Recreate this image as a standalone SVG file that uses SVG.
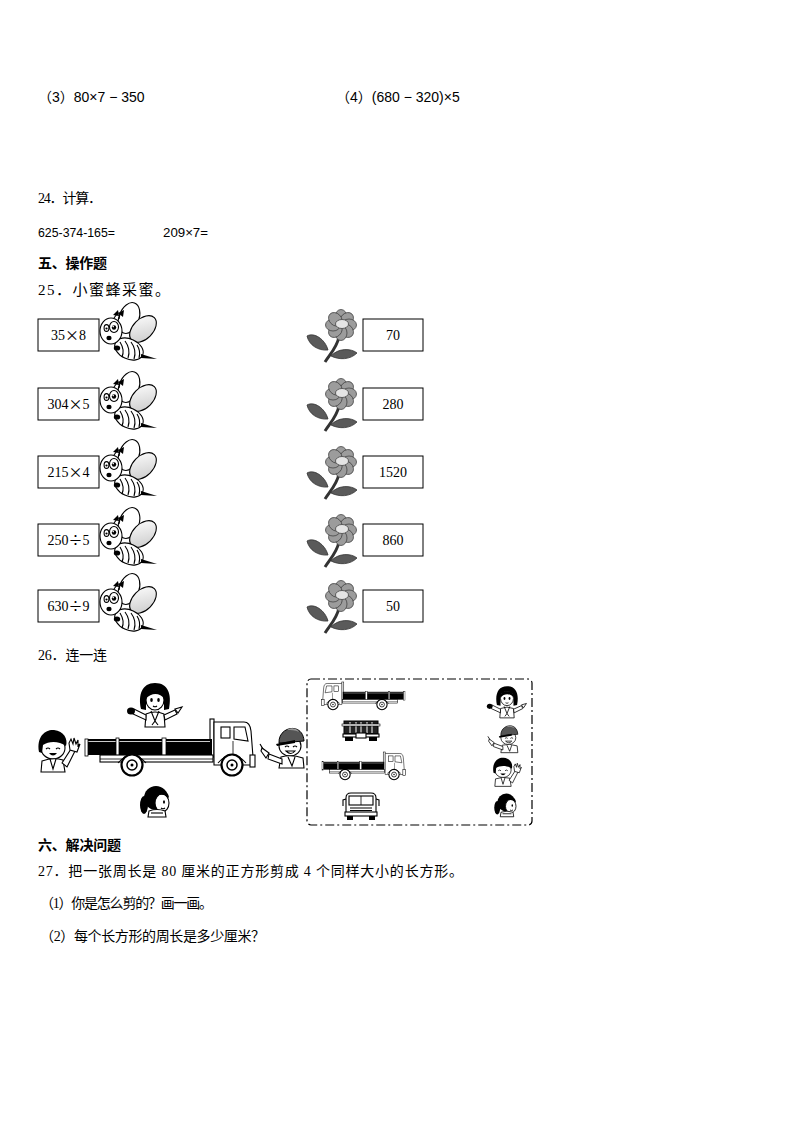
<svg xmlns="http://www.w3.org/2000/svg" xmlns:xlink="http://www.w3.org/1999/xlink" width="794" height="1123" viewBox="0 0 794 1123">
<style>
.t{font-family:"Liberation Serif","Noto Sans CJK SC",serif;font-size:14px;fill:#000}
.s{font-family:"Liberation Sans","Noto Sans CJK SC",sans-serif;font-size:14px;fill:#000}
.n{font-family:"Liberation Sans","Noto Sans CJK SC",sans-serif;font-size:13px;fill:#000}
.h{font-family:"Noto Sans CJK SC",sans-serif;font-size:14px;font-weight:bold;fill:#000}
.box{fill:#fff;stroke:#000;stroke-width:1}
.bt{font-family:"Liberation Serif","Noto Sans CJK SC",serif;font-size:14px;text-anchor:middle;fill:#000}
.op{font-family:"Noto Sans CJK SC",sans-serif;font-size:14px}
.k{stroke:#000;stroke-width:1.1;fill:#fff}
.kn{stroke:#000;stroke-width:1.1;fill:none}
.b{fill:#000}
.petal{fill:#9c9c9c;stroke:#444;stroke-width:0.8}
.leaf{fill:#5a5a5a;stroke:#333;stroke-width:0.8}
</style>
<defs>
<linearGradient id="wg" x1="0" y1="0" x2="1" y2="1"><stop offset="0" stop-color="#fff"/><stop offset="1" stop-color="#c8c8c8"/></linearGradient>
<g id="bee">
<ellipse class="k" cx="30" cy="-1" rx="10" ry="16" transform="rotate(20 30 -1)"/>
<ellipse cx="44" cy="10" rx="10" ry="16" transform="rotate(45 44 10)" fill="url(#wg)" stroke="#000" stroke-width="1.1"/>
<ellipse class="k" cx="30" cy="30" rx="15" ry="10" transform="rotate(25 30 30)"/>
<path class="kn" d="M21,23 Q26,31 23,38 M26,22 Q32,30 29,39 M32,23 Q38,31 35,40 M38,26 Q42,32 40,39"/>
<path class="b" d="M42,35 L58,40 L42,39 Z"/>
<ellipse class="k" cx="12" cy="12" rx="11" ry="13"/>
<path class="kn" d="M15,-1 L18,-5 M20,0 L21,-5"/>
<path class="b" d="M14,-4 L19,-9 L20,-3 Z M19,-6 L25,-9 L24,-2 Z"/>
<ellipse class="k" cx="15" cy="8" rx="4.5" ry="5.5"/>
<circle class="b" cx="15" cy="8.5" r="2.2"/>
<circle cx="14.2" cy="7.6" r="0.8" fill="#fff"/>
<ellipse class="k" cx="7.5" cy="9" rx="2.4" ry="3.4"/>
<circle class="b" cx="7.5" cy="9.5" r="1.1"/>
<ellipse class="b" cx="10" cy="19" rx="2.6" ry="2.2"/>
<ellipse class="b" cx="18" cy="29" rx="3.2" ry="2.6"/>
</g>
<g id="flower">
<path class="leaf" d="M307,17 C314,13 325,20 328,31 C318,32 309,26 307,17 Z"/>
<path class="leaf" d="M331,37 C338,29 351,29 357,34 C350,41 339,41 331,37 Z"/>
<path d="M339,18 C337,28 331,34 325,43" stroke="#333" stroke-width="3" fill="none"/>
<g>
<ellipse class="petal" cx="341" cy="-2" rx="6" ry="7.5"/>
<ellipse class="petal" cx="341" cy="-2" rx="6" ry="7.5" transform="rotate(45 341 6)"/>
<ellipse class="petal" cx="341" cy="-2" rx="6" ry="7.5" transform="rotate(90 341 6)"/>
<ellipse class="petal" cx="341" cy="-2" rx="6" ry="7.5" transform="rotate(135 341 6)"/>
<ellipse class="petal" cx="341" cy="-2" rx="6" ry="7.5" transform="rotate(180 341 6)"/>
<ellipse class="petal" cx="341" cy="-2" rx="6" ry="7.5" transform="rotate(225 341 6)"/>
<ellipse class="petal" cx="341" cy="-2" rx="6" ry="7.5" transform="rotate(270 341 6)"/>
<ellipse class="petal" cx="341" cy="-2" rx="6" ry="7.5" transform="rotate(315 341 6)"/>
</g>
<ellipse cx="342" cy="5" rx="6.5" ry="4.5" fill="#e4e4e4" stroke="#444" stroke-width="0.8"/>
</g>
<g id="truck">
<rect class="k" x="125" y="0" width="4" height="38"/>
<rect x="0" y="20" width="127" height="16" fill="#000"/>
<line x1="2" y1="22.5" x2="125" y2="22.5" stroke="#fff" stroke-width="0.8"/>
<rect x="0" y="20" width="3" height="17" fill="#fff" stroke="#000" stroke-width="0.8"/>
<rect x="31" y="19" width="3" height="18" fill="#fff" stroke="#000" stroke-width="0.8"/>
<rect x="77" y="19" width="4" height="18" fill="#fff" stroke="#000" stroke-width="0.8"/>
<rect class="k" x="15" y="36" width="113" height="7"/>
<line x1="15" y1="40" x2="128" y2="40" stroke="#000" stroke-width="0.8"/>
<path class="k" stroke-width="1.5" d="M129,44 L129,3 L159,3 Q165,3 166,12 L168,38 L168,46 L129,46 Z"/>
<rect class="k" x="136" y="8" width="9" height="11"/>
<path class="k" d="M149,8 L160,8 L163,22 L149,20 Z"/>
<line x1="148" y1="22" x2="148" y2="42" stroke="#000" stroke-width="0.8"/>
<rect class="k" x="165" y="36" width="5" height="12"/>
<path class="kn" stroke-width="1.5" d="M33,44 Q47,28 61,44 M133,44 Q147,28 161,44"/>
<circle cx="47" cy="46" r="10.5" fill="#fff" stroke="#000" stroke-width="2.2"/>
<circle cx="47" cy="46" r="5" fill="none" stroke="#000" stroke-width="1.5"/>
<circle cx="47" cy="46" r="1.5" fill="#000"/>
<circle cx="147" cy="46" r="10.5" fill="#fff" stroke="#000" stroke-width="2.2"/>
<circle cx="147" cy="46" r="5" fill="none" stroke="#000" stroke-width="1.5"/>
<circle cx="147" cy="46" r="1.5" fill="#000"/>
</g>
<g id="girl">
<path class="b" d="M-14,11 C-17,-3 -13,-15 0,-15 C13,-15 17,-4 14,11 L9,12 L9,0 L-9,0 L-9,12 Z"/>
<ellipse class="k" cx="0" cy="2" rx="9" ry="10"/>
<path class="b" d="M-9.5,1 C-10,-11 10,-11 9.5,1 C5,-5 -3,-6 -9.5,1 Z"/>
<ellipse class="b" cx="-3.5" cy="2" rx="1.3" ry="2"/>
<ellipse class="b" cx="3.5" cy="2" rx="1.3" ry="2"/>
<path class="kn" d="M-2,8 Q0,9.5 2,8"/>
<path class="k" d="M-10,29 L-9,16 Q0,12 9,16 L10,29 Z"/>
<path class="kn" d="M-4,13 L0,23 L4,13 M0,23 L-3,27 M0,23 L3,27"/>
<path class="k" d="M-9,17 L-21,11 L-22,16 L-9,22 Z"/>
<ellipse class="b" cx="-24" cy="13" rx="4" ry="3.5"/>
<path class="k" d="M9,17 L20,12 L22,16 L10,22 Z"/>
<path class="k" d="M20,11 L27,9 L23,15 Z"/>
</g>
<g id="boy">
<ellipse class="k" cx="0" cy="3" rx="12" ry="11"/>
<path class="b" d="M-14,7 C-17,-10 -6,-16 1,-15 C11,-14 15,-6 13,1 C6,-4 -4,-4 -10,0 L-11,8 Z"/>
<path class="kn" d="M-7,4 Q-5,2 -3,4 M3,4 Q5,2 7,4"/>
<path class="b" d="M-4,8 Q0,13 4,8 Z"/>
<path class="k" d="M-12,27 L-11,16 Q0,12 10,15 L12,27 Z"/>
<path class="kn" d="M-3,14 L0,24 L3,14"/>
<path class="k" d="M9,18 L18,4 L22,6 L14,22 Z"/>
<path class="k" d="M17,5 L16,-2 L18,-6 L20,-1 L21,-7 L23,-1 L25,-5 L25,1 L27,-1 L24,7 Z"/>
</g>
<g id="worker">
<ellipse class="k" cx="-1" cy="4" rx="11" ry="10"/>
<path fill="#555" stroke="#000" stroke-width="1" d="M-12,1 C-13,-16 12,-20 13,-1 Z"/>
<path fill="#999" d="M-4,-12 C0,-15 6,-14 8,-10 C4,-12 0,-12 -4,-12 Z"/>
<path class="b" d="M-15,2 L4,-2 L4,1 L-14,4 Z"/>
<path class="kn" d="M-6,5 Q-4,3 -2,5 M2,5 Q4,3 6,5"/>
<path class="k" d="M-5,9 Q0,14 4,9 Z"/>
<path class="k" d="M-12,26 L-10,15 Q0,12 12,16 L13,26 Z"/>
<path class="kn" d="M-3,15 L1,24 L4,15"/>
<path class="k" d="M-9,17 L-22,12 L-23,17 L-9,22 Z"/>
<path class="k" d="M-22,11 L-29,6 L-30,9 L-25,16 Z"/>
<line x1="-28" y1="7" x2="-31" y2="2" stroke="#000" stroke-width="1.2"/>
</g>
<g id="pony">
<ellipse class="b" cx="-13" cy="5" rx="4" ry="9"/>
<circle class="b" cx="-1" cy="-2" r="12"/>
<ellipse class="k" cx="5" cy="3" rx="7" ry="9"/>
<path class="b" d="M-2,-5 C2,-12 12,-10 12,-2 C8,-6 3,-6 -2,-5 Z"/>
<ellipse class="b" cx="7" cy="2" rx="1" ry="1.8"/>
<path class="kn" d="M4,8 Q6,9.5 8,8"/>
<path class="k" d="M-9,17 L-8,11 Q0,8 8,11 L9,17 Z"/>
<path class="kn" d="M-6,13 L6,13"/>
</g>
</defs>

<rect width="794" height="1123" fill="#fff"/>

<g id="texts">
<text class="s" x="38" y="102">（3）80×7 − 350</text>
<text class="s" x="336" y="102">（4）(680 − 320)×5</text>
<text class="t" x="38" y="203" textLength="64" lengthAdjust="spacing">24．计算．</text>
<text class="n" x="38" y="237" textLength="77" lengthAdjust="spacingAndGlyphs">625-374-165=</text>
<text class="n" x="163" y="237" textLength="45" lengthAdjust="spacingAndGlyphs">209×7=</text>
<text class="h" x="38" y="268" textLength="69" lengthAdjust="spacing">五、操作题</text>
<text class="t" x="38" y="295" style="font-size:15px" textLength="132" lengthAdjust="spacing">25．小蜜蜂采蜜。</text>
<text class="t" x="38" y="660" textLength="69" lengthAdjust="spacing">26．连一连</text>
<text class="h" x="38" y="850" textLength="83" lengthAdjust="spacing">六、解决问题</text>
<text class="t" x="38" y="876" textLength="425" lengthAdjust="spacing">27．把一张周长是 80 厘米的正方形剪成 4 个同样大小的长方形。</text>
<text class="t" x="40" y="908" textLength="173" lengthAdjust="spacing">（1）你是怎么剪的？画一画。</text>
<text class="t" x="40" y="941" textLength="225" lengthAdjust="spacing">（2）每个长方形的周长是多少厘米？</text>
</g>

<g id="q25">
<g id="left1"><rect class="box" x="38" y="319" width="61" height="32"/><text class="bt" x="68.5" y="340">35<tspan class="op">×</tspan>8</text><use xlink:href="#bee" href="#bee" transform="translate(99,319)"/></g>
<g id="left2"><rect class="box" x="38" y="388" width="61" height="32"/><text class="bt" x="68.5" y="409">304<tspan class="op">×</tspan>5</text><use xlink:href="#bee" href="#bee" transform="translate(99,388)"/></g>
<g id="left3"><rect class="box" x="38" y="456" width="61" height="32"/><text class="bt" x="68.5" y="477">215<tspan class="op">×</tspan>4</text><use xlink:href="#bee" href="#bee" transform="translate(99,456)"/></g>
<g id="left4"><rect class="box" x="38" y="524" width="61" height="32"/><text class="bt" x="68.5" y="545">250<tspan class="op">÷</tspan>5</text><use xlink:href="#bee" href="#bee" transform="translate(99,524)"/></g>
<g id="left5"><rect class="box" x="38" y="590" width="61" height="32"/><text class="bt" x="68.5" y="611">630<tspan class="op">÷</tspan>9</text><use xlink:href="#bee" href="#bee" transform="translate(99,590)"/></g>

<g id="right1"><use xlink:href="#flower" href="#flower" transform="translate(0,319)"/><rect class="box" x="363" y="319" width="60" height="32"/><text class="bt" x="393" y="340">70</text></g>
<g id="right2"><use xlink:href="#flower" href="#flower" transform="translate(0,388)"/><rect class="box" x="363" y="388" width="60" height="32"/><text class="bt" x="393" y="409">280</text></g>
<g id="right3"><use xlink:href="#flower" href="#flower" transform="translate(0,456)"/><rect class="box" x="363" y="456" width="60" height="32"/><text class="bt" x="393" y="477">1520</text></g>
<g id="right4"><use xlink:href="#flower" href="#flower" transform="translate(0,524)"/><rect class="box" x="363" y="524" width="60" height="32"/><text class="bt" x="393" y="545">860</text></g>
<g id="right5"><use xlink:href="#flower" href="#flower" transform="translate(0,590)"/><rect class="box" x="363" y="590" width="60" height="32"/><text class="bt" x="393" y="611">50</text></g>
</g>

<g id="q26scene">
<g id="bigTruck"><use xlink:href="#truck" href="#truck" transform="translate(85,719)"/></g>
<g id="girlTop"><use xlink:href="#girl" href="#girl" transform="translate(155,698)"/></g>
<g id="boyLeft"><use xlink:href="#boy" href="#boy" transform="translate(53,745)"/></g>
<g id="workerRight"><use xlink:href="#worker" href="#worker" transform="translate(291,742)"/></g>
<g id="girlBottom"><use xlink:href="#pony" href="#pony" transform="translate(157,800)"/></g>
</g>

<g id="q26panel">
<rect x="307" y="679" width="225" height="146" rx="4" fill="none" stroke="#000" stroke-width="1.2" stroke-dasharray="9 3 2 3"/>
<g id="truckLeftView"><use xlink:href="#truck" href="#truck" transform="translate(405,682) scale(-0.49,0.49)"/></g>
<g id="truckRear">
<rect x="344" y="721" width="34" height="13" fill="#222" stroke="#000"/>
<path d="M350,722 V733 M356,722 V733 M361,722 V733 M367,722 V733 M372,722 V733" stroke="#fff" stroke-width="1"/>
<rect x="342" y="724" width="38" height="2" fill="#fff" stroke="#000" stroke-width="0.6"/>
<rect class="k" x="343" y="734" width="36" height="3"/>
<rect class="k" x="356" y="733" width="10" height="5"/>
<rect x="345" y="737" width="8" height="4" fill="#000"/>
<rect x="369" y="737" width="8" height="4" fill="#000"/>
</g>
<g id="truckRightView"><use xlink:href="#truck" href="#truck" transform="translate(322,752) scale(0.49)"/></g>
<g id="truckFront">
<path class="k" stroke-width="1.5" d="M346,815 L346,798 Q346,793 351,793 L371,793 Q376,793 376,798 L376,815 Z"/>
<rect class="k" x="349" y="796" width="24" height="9"/>
<line x1="361" y1="796" x2="361" y2="805" stroke="#000" stroke-width="0.8"/>
<path class="kn" d="M346,799 L343,800 L343,806 M376,799 L379,800 L379,806"/>
<path class="kn" d="M350,808 H372 M350,810.5 H372"/>
<rect class="k" x="345" y="812" width="32" height="4"/>
<rect x="347" y="816" width="6" height="4" fill="#000"/>
<rect x="369" y="816" width="6" height="4" fill="#000"/>
</g>
<g id="panelGirl"><use xlink:href="#girl" href="#girl" transform="translate(507,697) scale(0.72)"/></g>
<g id="panelWorker"><use xlink:href="#worker" href="#worker" transform="translate(509,735) scale(0.68)"/></g>
<g id="panelBoy"><use xlink:href="#boy" href="#boy" transform="translate(503,768) scale(0.68)"/></g>
<g id="panelPony"><use xlink:href="#pony" href="#pony" transform="translate(507,804) scale(0.75)"/></g>
</g>

<g id="connectors"/>
</svg>
